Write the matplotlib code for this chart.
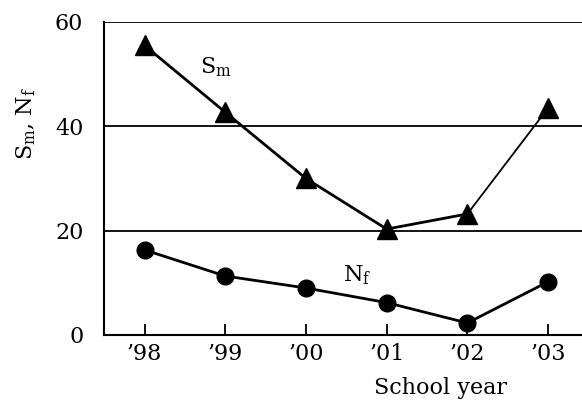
import matplotlib
matplotlib.use("Agg")
import matplotlib.pyplot as plt

plt.rcParams['font.family'] = ['DejaVu Serif']
plt.rcParams['mathtext.fontset'] = 'dejavuserif'

years = ["\u201998", "\u201999", "\u201900", "\u201901", "\u201902", "\u201903"]
sm = [55.5, 42.7, 30.0, 20.3, 23.2, 43.5]
nf = [16.3, 11.3, 9.0, 6.2, 2.3, 10.2]
yticks = [0, 20, 40, 60]

x = list(range(len(years)))

fig = plt.figure(figsize=(5.82, 4.07), dpi=100)
ax = fig.add_axes([0.179, 0.177, 0.821, 0.769])

# grid lines
for v in yticks[1:]:
    ax.axhline(v, color='black', lw=1.3, zorder=1)

# S_m: last segment drawn thinner, like the original
ax.plot(x[:5], sm[:5], color='black', lw=2.0, zorder=3)
ax.plot(x[4:], sm[4:], color='black', lw=1.3, zorder=3)
ax.plot(x, sm, ls='none', marker='^', ms=14, color='black', zorder=4)

ax.plot(x, nf, color='black', lw=2.0, marker='o', ms=12, zorder=4)

ax.text(0.88, 51.3, r'S$_{\rm m}$', fontsize=16, ha='center', va='center')
ax.text(2.64, 11.5, r'N$_{\rm f}$', fontsize=16, ha='center', va='center')

ax.set_xlim(-0.5, 5.42)
ax.set_ylim(0, 60)
ax.set_xticks(x)
ax.set_xticklabels(years, fontsize=16)
ax.set_yticks(yticks)
ax.set_yticklabels([str(v) for v in yticks], fontsize=16)
ax.tick_params(axis='x', direction='in', length=8, width=1.3, pad=6)
ax.tick_params(axis='y', length=0, pad=15)

for s in ['top', 'right']:
    ax.spines[s].set_visible(False)
for s in ['left', 'bottom']:
    ax.spines[s].set_linewidth(1.5)

ax.set_ylabel(r'S$_{\rm m}$, N$_{\rm f}$', fontsize=16)
ax.yaxis.set_label_coords(-0.138, 0.677)
ax.set_xlabel('School year', fontsize=16)
ax.xaxis.set_label_coords(0.703, -0.133)

fig.savefig('out.png', dpi=100)
